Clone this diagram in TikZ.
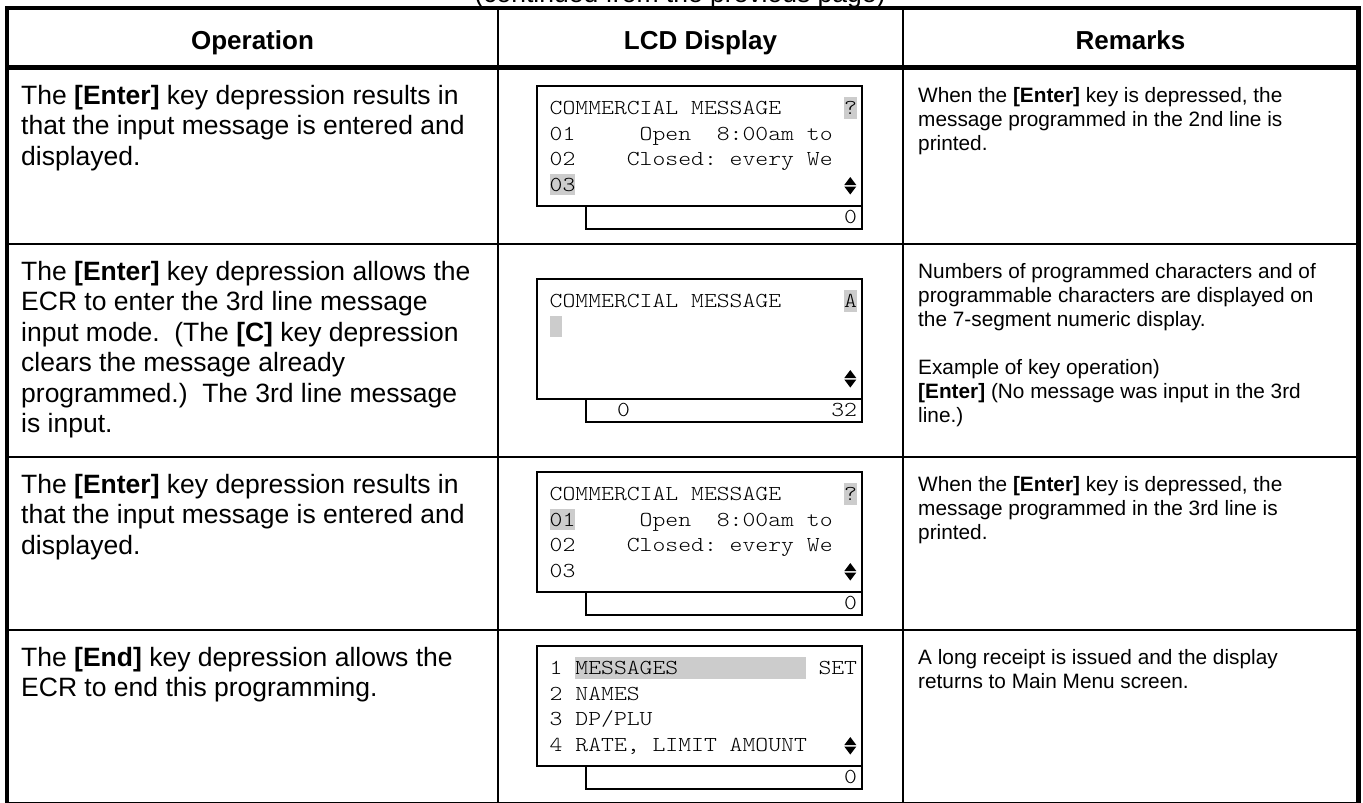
\documentclass[tikz,border=0pt]{standalone}
\usepackage{fontspec}
\setmainfont{Liberation Sans}
% thin serif typewriter face for the LCD, widened to the display cell pitch
\newfontfamily\lcdfont[FakeStretch=1.15]{lmmonolt10-regular.otf}
\frenchspacing

\definecolor{lcdgray}{RGB}{204,204,204}

% LCD character grid: origin of column 0 and width of one cell
\newcommand\lcdox{549.5}
\newcommand\lcdcw{12.8}
% grey highlight: first cell, number of cells, baseline
\newcommand\lcdhl[3]{\fill[lcdmark] ({\lcdox+#1*\lcdcw},{#3-17.5}) rectangle ({\lcdox+(#1+#2)*\lcdcw},{#3+4});}
% scroll marker (up and down triangles) in the last cell
\newcommand\lcdscroll[1]{%
  \fill ({\lcdox+23.5*\lcdcw-6},{#1-6}) -- ({\lcdox+23.5*\lcdcw+6},{#1-6}) -- ({\lcdox+23.5*\lcdcw},{#1-14}) -- cycle;
  \fill ({\lcdox+23.5*\lcdcw-6},{#1-4.5}) -- ({\lcdox+23.5*\lcdcw+6},{#1-4.5}) -- ({\lcdox+23.5*\lcdcw},{#1+3.5}) -- cycle;}

\begin{document}
\begin{tikzpicture}[x=1pt,y=-1pt,
  tablerule/.style={line width=2.6pt},
  outerrule/.style={line width=4.4pt},
  headrule/.style={line width=4.6pt},
  headtext/.style={anchor=base, inner sep=0pt, font=\fontsize{26}{30}\selectfont\bfseries},
  optext/.style={anchor=base west, inner sep=0pt, font=\fontsize{26.5}{30.5}\selectfont},
  remtext/.style={anchor=base west, inner sep=0pt, font=\fontsize{20.8}{24}\selectfont},
  lcdtext/.style={anchor=base west, inner sep=0pt, font=\lcdfont\fontsize{21.3}{25}\selectfont},
  lcdframe/.style={line width=2.3pt},
  lcdmark/.style={fill=lcdgray},
]
\useasboundingbox (0,0) rectangle (1363,803);

% page note above the table
\node[anchor=base, inner sep=0pt, font=\fontsize{26.5}{30}\selectfont] (cont) at (680,2) {(continued from the previous page)};

% table grid
\draw[tablerule] (498,8) -- (498,803);
\draw[tablerule] (903,8) -- (903,803);
\draw[tablerule] (7,244) -- (1358.5,244);
\draw[tablerule] (7,457) -- (1358.5,457);
\draw[tablerule] (7,630) -- (1358.5,630);
\draw[headrule] (7,67.5) -- (1358.5,67.5);
\draw[outerrule] (7,8) rectangle (1358.5,804);

% header
\node[headtext] (hop) at (252.5,49) {Operation};
\node[headtext] (hlcd) at (700.5,49) {LCD Display};
\node[headtext] (hrem) at (1130.5,49) {Remarks};

% operation column
\node[optext] (op1) at (21,104) {\parbox[t]{470pt}{The \textbf{[Enter]} key depression results in\\ that the input message is entered and\\ displayed.}};
\node[optext] (op2) at (21,280) {\parbox[t]{470pt}{The \textbf{[Enter]} key depression allows the\\ ECR to enter the 3rd line message\\ input mode.~~(The \textbf{[C]} key depression\\ clears the message already\\ programmed.)~~The 3rd line message\\ is input.}};
\node[optext] (op3) at (21,493) {\parbox[t]{470pt}{The \textbf{[Enter]} key depression results in\\ that the input message is entered and\\ displayed.}};
\node[optext] (op4) at (21,666) {\parbox[t]{470pt}{The \textbf{[End]} key depression allows the\\ ECR to end this programming.}};

% remarks column
\node[remtext] (rem1) at (918,102) {\parbox[t]{430pt}{When the \textbf{[Enter]} key is depressed, the\\ message programmed in the 2nd line is\\ printed.}};
\node[remtext] (rem2) at (918,278) {\parbox[t]{430pt}{Numbers of programmed characters and of\\ programmable characters are displayed on\\ the 7-segment numeric display.\\[24pt] Example of key operation)\\ \textbf{[Enter]} (No message was input in the 3rd\\ line.)}};
\node[remtext] (rem3) at (918,491) {\parbox[t]{430pt}{When the \textbf{[Enter]} key is depressed, the\\ message programmed in the 3rd line is\\ printed.}};
\node[remtext] (rem4) at (918,664) {\parbox[t]{430pt}{A long receipt is issued and the display\\ returns to Main Menu screen.}};

% ---- LCD 1: 2nd line entered ----
\lcdhl{23}{1}{114.5}
\lcdhl{0}{2}{191}
\draw[lcdframe] (537,86) rectangle (862,206);
\draw[lcdframe] (586,206) rectangle (862,229);
\node[lcdtext] (a1) at (\lcdox,114.5) {COMMERCIAL MESSAGE};
\node[lcdtext] (a1q) at ({\lcdox+23*\lcdcw},114.5) {?};
\node[lcdtext] (a2) at (\lcdox,140) {01~~~~~Open~~8:00am~to};
\node[lcdtext] (a3) at (\lcdox,165.5) {02~~~~Closed:~every~We};
\node[lcdtext] (a4) at (\lcdox,191) {03};
\lcdscroll{191}
\node[lcdtext] (a5) at ({\lcdox+23*\lcdcw},223) {0};

% ---- LCD 2: 3rd line input ----
\lcdhl{23}{1}{307.5}
\lcdhl{0}{1}{333}
\draw[lcdframe] (537,279) rectangle (862,399);
\draw[lcdframe] (586,399) rectangle (862,422);
\node[lcdtext] (b1) at (\lcdox,307.5) {COMMERCIAL MESSAGE};
\node[lcdtext] (b1a) at ({\lcdox+23*\lcdcw},307.5) {A};
\lcdscroll{384}
\node[lcdtext] (b5) at (617,416) {0};
\node[lcdtext] (b6) at ({\lcdox+22*\lcdcw},416) {32};

% ---- LCD 3: 3rd line entered ----
\lcdhl{23}{1}{500.5}
\lcdhl{0}{2}{526}
\draw[lcdframe] (537,472) rectangle (862,592);
\draw[lcdframe] (586,592) rectangle (862,615);
\node[lcdtext] (c1) at (\lcdox,500.5) {COMMERCIAL MESSAGE};
\node[lcdtext] (c1q) at ({\lcdox+23*\lcdcw},500.5) {?};
\node[lcdtext] (c2) at (\lcdox,526) {01~~~~~Open~~8:00am~to};
\node[lcdtext] (c3) at (\lcdox,551.5) {02~~~~Closed:~every~We};
\node[lcdtext] (c4) at (\lcdox,577) {03};
\lcdscroll{577}
\node[lcdtext] (c5) at ({\lcdox+23*\lcdcw},609) {0};

% ---- LCD 4: main menu ----
\lcdhl{2}{18}{674.5}
\draw[lcdframe] (537,646) rectangle (862,766);
\draw[lcdframe] (586,766) rectangle (862,789);
\node[lcdtext] (d1) at (\lcdox,674.5) {1~MESSAGES};
\node[lcdtext] (d1s) at ({\lcdox+21*\lcdcw},674.5) {SET};
\node[lcdtext] (d2) at (\lcdox,700) {2~NAMES};
\node[lcdtext] (d3) at (\lcdox,725.5) {3~DP/PLU};
\node[lcdtext] (d4) at (\lcdox,751) {4~RATE,~LIMIT~AMOUNT};
\lcdscroll{751}
\node[lcdtext] (d5) at ({\lcdox+23*\lcdcw},783) {0};
\end{tikzpicture}
\end{document}
